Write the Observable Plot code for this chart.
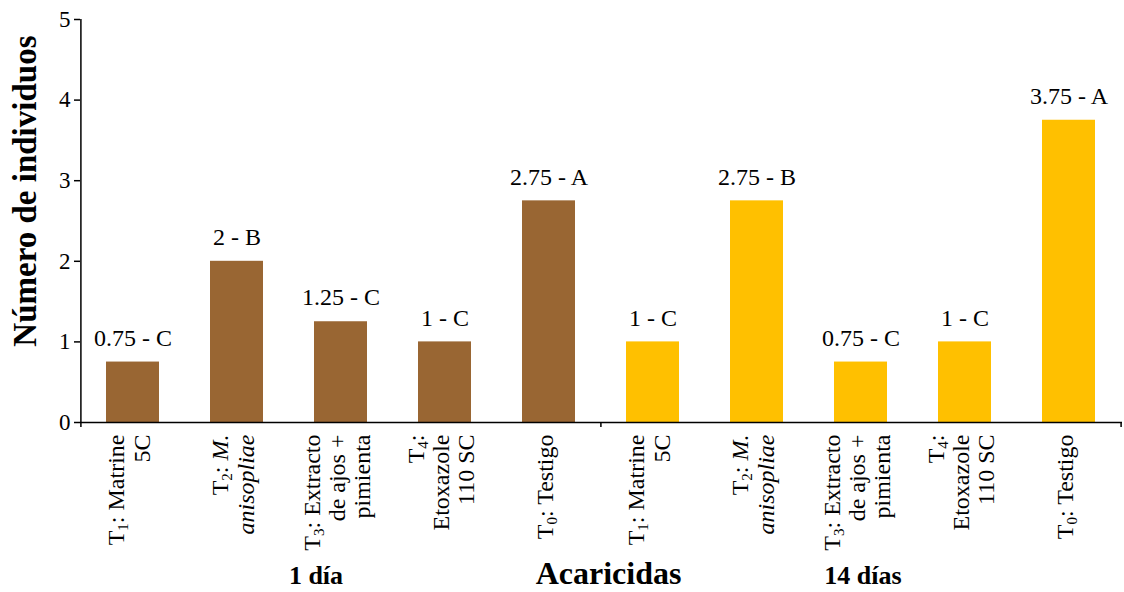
<!DOCTYPE html>
<html><head><meta charset="utf-8">
<script src="https://cdn.jsdelivr.net/npm/d3@7"></script>
<script src="https://cdn.jsdelivr.net/npm/@observablehq/plot@0.6"></script>
<style>body{margin:0;background:#fff}</style>
</head><body><div id="chart"></div>
<script>
// ---- data ----
const groups = ["1 día", "14 días"];
const groupColors = ["#996633", "#FFC000"];
const treatments = [
  "T_1: Matrine\n5C",
  "T_2: *M.*\n*anisopliae*",
  "T_3: Extracto\nde ajos +\npimienta",
  "T_4:\nEtoxazole\n110 SC",
  "T_0: Testigo"
];
const values1 = [0.75, 2, 1.25, 1, 2.75];
const letters1 = ["C", "B", "C", "C", "A"];
const values14 = [1, 2.75, 0.75, 1, 3.75];
const letters14 = ["C", "B", "C", "C", "A"];
const yTicks = [0, 1, 2, 3, 4, 5];
const xTitle = "Acaricidas";
const yTitle = "Número de individuos";

const data = [];
[[values1, letters1], [values14, letters14]].forEach(([vals, lets], g) =>
  vals.forEach((v, i) => data.push({key: g + "-" + i, group: groups[g], label: treatments[i], value: v, letter: lets[i]})));
const keys = data.map(d => d.key);

const W = 1124, H = 592, mL = 80, mR = 2, mT = 19, mB = 170;
const half = (W - mL - mR) / keys.length / 2;
const plotH = H - mT - mB;

const chart = Plot.plot({
  width: W, height: H,
  marginLeft: mL, marginRight: mR, marginTop: mT, marginBottom: mB,
  style: {fontFamily: "'Liberation Serif', 'Times New Roman', serif", fontSize: "23px", color: "black", background: "white", overflow: "visible"},
  x: {domain: keys, paddingInner: 0.49, paddingOuter: 0.245, axis: null},
  y: {domain: [0, 5], axis: null},
  color: {domain: groups, range: groupColors},
  marks: [
    Plot.barY(data, {x: "key", y: "value", fill: "group"}),
    Plot.ruleY([0], {stroke: "black", strokeWidth: 1.5}),
    Plot.ruleX([keys[0]], {dx: -half, stroke: "black", strokeWidth: 1.5}),
    Plot.ruleX([keys[0], keys[5]], {dx: -half, insetTop: plotH, insetBottom: -5, stroke: "black", strokeWidth: 1.5}),
    Plot.ruleX([keys[9]], {dx: half, insetTop: plotH, insetBottom: -5, stroke: "black", strokeWidth: 1.5}),
    Plot.axisY({ticks: yTicks, tickSize: 6, tickPadding: 4, fontSize: 23, label: null, tickFormat: d => d, strokeWidth: 1.5}),
    Plot.text(data, {x: "key", y: "value", text: d => `${d.value} - ${d.letter}`, dy: -24, fontSize: 24}),
    Plot.text(data, {x: "key", frameAnchor: "bottom", text: "label", rotate: -90, textAnchor: "end", lineAnchor: "middle", lineHeight: 1.05, dx: -4, dy: 12, fontSize: 24}),
    Plot.text([{k: keys[2], t: groups[0]}], {x: "k", text: "t", frameAnchor: "bottom", dx: -25, dy: 161, fontSize: 26, fontWeight: "bold"}),
    Plot.text([{k: keys[7], t: groups[1]}], {x: "k", text: "t", frameAnchor: "bottom", dx: 2, dy: 161, fontSize: 26, fontWeight: "bold"}),
    Plot.text([xTitle], {text: d => d, frameAnchor: "bottom", dx: 7, dy: 161, fontSize: 32, fontWeight: "bold"}),
    Plot.text([yTitle], {text: d => d, frameAnchor: "top-left", rotate: -90, textAnchor: "end", dx: -68, dy: 16, fontSize: 33, fontWeight: "bold"})
  ]
});
document.getElementById("chart").appendChild(chart);

// rich text: _d -> subscript, *x* -> italic
const ns = "http://www.w3.org/2000/svg";
chart.querySelectorAll("text").forEach(function (el) {
  if (!/[_*]/.test(el.textContent)) return;
  const lines = el.querySelectorAll("tspan");
  const targets = lines.length ? Array.from(lines) : [el];
  targets.forEach(t => {
    const s = t.textContent;
    t.textContent = "";
    let shift = 0;
    s.split(/(_\d|\*[^*]*\*)/).forEach(part => {
      if (!part) return;
      const ts = document.createElementNS(ns, "tspan");
      if (part[0] === "_") {
        ts.textContent = part.slice(1);
        ts.setAttribute("font-size", "15");
        ts.setAttribute("dy", "4");
        shift = 4;
      } else {
        if (part[0] === "*") { part = part.slice(1, -1); ts.setAttribute("font-style", "italic"); }
        ts.textContent = part;
        if (shift) { ts.setAttribute("dy", -shift); shift = 0; }
      }
      t.appendChild(ts);
    });
  });
});
</script>
</body></html>
